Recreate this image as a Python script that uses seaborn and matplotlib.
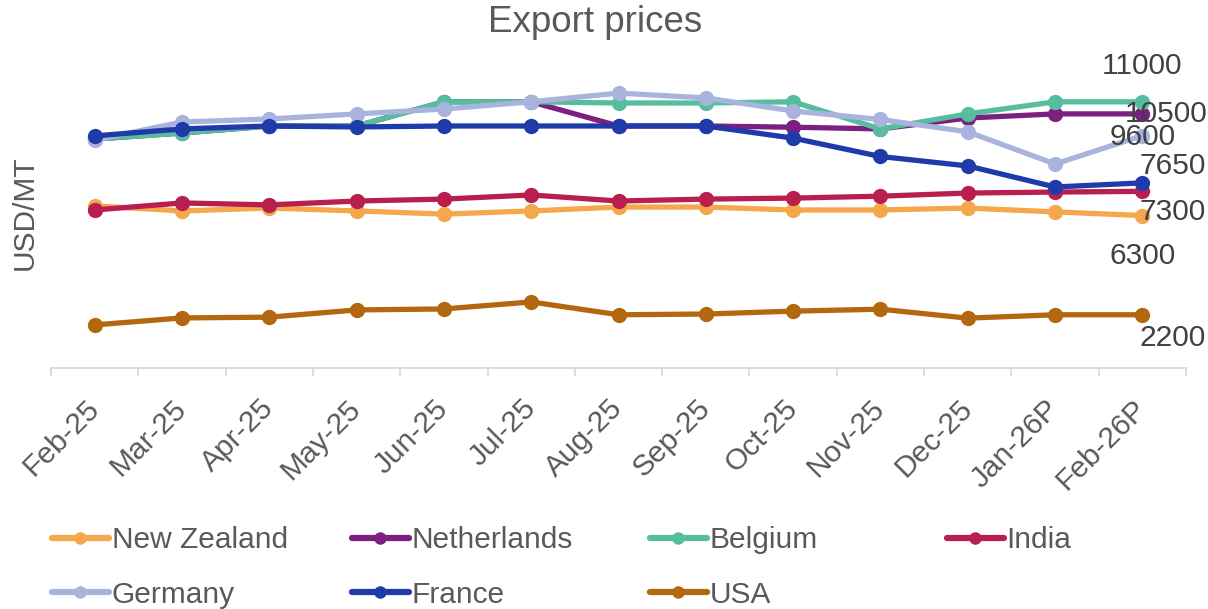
import matplotlib
matplotlib.use("Agg")
import matplotlib.pyplot as plt
from matplotlib.lines import Line2D
from matplotlib.ticker import FixedLocator
import seaborn as sns
import pandas as pd
import numpy as np

months = ['Feb-25', 'Mar-25', 'Apr-25', 'May-25', 'Jun-25', 'Jul-25', 'Aug-25',
          'Sep-25', 'Oct-25', 'Nov-25', 'Dec-25', 'Jan-26P', 'Feb-26P']
series_names = ['New Zealand', 'Netherlands', 'Belgium', 'India', 'Germany', 'France', 'USA']
new_zealand = [6700, 6490, 6610, 6490, 6360, 6490, 6650, 6650, 6530, 6530, 6610, 6450, 6300]
netherlands = [9460, 9710, 10000, 10000, 11000, 11000, 10000, 10000, 9950, 9880, 10330, 10500, 10500]
belgium = [9460, 9710, 10000, 10000, 11000, 11000, 10950, 10950, 11000, 9880, 10500, 11000, 11000]
india = [6530, 6820, 6740, 6900, 6980, 7150, 6900, 6980, 7020, 7100, 7230, 7270, 7300]
germany = [9420, 10165, 10290, 10500, 10700, 11000, 11360, 11160, 10620, 10270, 9760, 8430, 9600]
france = [9590, 9880, 10000, 9960, 10000, 10000, 10000, 10000, 9500, 8740, 8350, 7480, 7650]
usa = [1780, 2070, 2100, 2400, 2440, 2730, 2200, 2230, 2350, 2430, 2060, 2200, 2200]

values = [new_zealand, netherlands, belgium, india, germany, france, usa]
colors = ['#F4A74B', '#7B1F80', '#56BD9F', '#B81F4F', '#A8B4DE', '#1F3BAA', '#B3680F']
palette = dict(zip(series_names, colors))

rows = []
for name, vals in zip(series_names, values):
    for i, (m, v) in enumerate(zip(months, vals)):
        rows.append({'idx': i, 'month': m, 'country': name, 'price': v})
df = pd.DataFrame(rows)

sns.set_theme(style='white')
plt.rcParams['font.family'] = ['Liberation Sans', 'DejaVu Sans']

fig = plt.figure(figsize=(12.08, 6.09), dpi=100)
ax = fig.add_axes([51/1208, 1 - 368/609, (1186-51)/1208, (368-77.6)/609])

sns.lineplot(data=df, x='idx', y='price', hue='country', hue_order=series_names,
             palette=palette, marker='o', markersize=11, markeredgewidth=0,
             linewidth=3.8, sort=False, legend=False, ax=ax)

ax.set_xlim(-0.5, len(months) - 0.5)
ax.set_ylim(0, 12000)
ax.set_yticks([])
ax.set_ylabel('')
ax.set_xlabel('')
for s in ['top', 'right', 'left']:
    ax.spines[s].set_visible(False)
ax.spines['bottom'].set_color('#D9D9D9')
ax.spines['bottom'].set_linewidth(1.3)

ax.set_xticks(range(len(months)))
ax.set_xticklabels(months, rotation=45, ha='right', va='center',
                   rotation_mode='anchor', fontsize=21.5, color='#595959')
ax.tick_params(axis='x', which='major', bottom=True, length=0, pad=26)
ax.xaxis.set_minor_locator(FixedLocator(np.arange(-0.5, len(months), 1.0)))
ax.tick_params(axis='x', which='minor', bottom=True, length=6, width=1.3,
               color='#D9D9D9', direction='out')

# end-of-line value labels
label_offsets = {
    'Belgium': (0, 26, 'center'),
    'Netherlands': (17, 0, 'center'),
    'Germany': (0, -1, 'center'),
    'France': (22, 12.5, 'center'),
    'India': (22, -15, 'center'),
    'New Zealand': (0, -29, 'center'),
    'USA': (22, -17, 'center'),
}
last = len(months) - 1
for name, vals in zip(series_names, values):
    dx, dy, ha = label_offsets[name]
    ax.annotate(f"{vals[-1]}", xy=(last, vals[-1]), xytext=(dx, dy),
                textcoords='offset points', ha=ha, va='center',
                fontsize=21.5, color='#404040', annotation_clip=False)

fig.text(595/1208, 1 - 22/609, 'Export prices', ha='center', va='center',
         fontsize=26.5, color='#595959')
fig.text(25/1208, 1 - 213/609, 'USD/MT', rotation=90, ha='center', va='center',
         fontsize=21.5, color='#595959')

# legend, laid out row-wise in four columns
col_x = [52, 352, 650, 947]
layout = [['New Zealand', 'Germany'], ['Netherlands', 'France'], ['Belgium', 'USA'], ['India']]
for cx, names in zip(col_x, layout):
    handles = [Line2D([], [], color=palette[n], marker='o', markersize=9,
                      markeredgewidth=0, linewidth=4.5) for n in names]
    leg = fig.legend(handles=handles, labels=names, loc='upper left',
                     bbox_to_anchor=(cx/1208, 1 - 526/609), frameon=False,
                     fontsize=21.5, handlelength=1.9, handletextpad=0.1,
                     labelspacing=0.9, borderpad=0, borderaxespad=0)
    for t in leg.get_texts():
        t.set_color('#595959')

fig.savefig('out.png', dpi=100)
